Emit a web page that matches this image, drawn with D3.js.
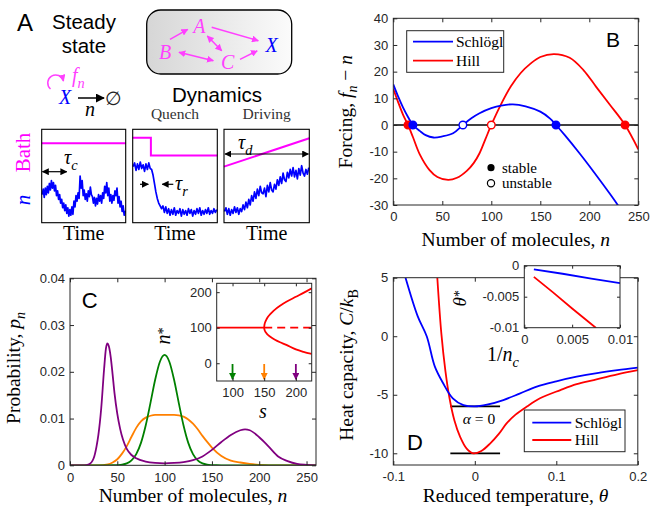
<!DOCTYPE html>
<html><head><meta charset="utf-8">
<script src="https://cdn.jsdelivr.net/npm/d3@7/dist/d3.min.js"></script>
<style>html,body{margin:0;padding:0;background:#fff}svg{display:block}</style>
</head><body>
<svg id="fig" width="652" height="506"></svg>
<script>
// ================= DATA =================
// Panel A: sample traces (level 0 = bottom, 100 = top of each small box)
const steadyTrace=[30,36,27,37,30,39,32,42,35,45,37,43,34,40,29,34,25,30,21,25,16,21,13,19,10,16,7,14,8,17,9,23,17,29,23,32,26,50,37,45,29,35,25,31,23,34,28,38,30,28,21,27,18,26,20,30,23,29,21,32,26,39,32,43,29,37,23,30,21,29,24,34,29,37,21,28,17,23,12,18,8,13];
const quenchTrace=[60,64,56,63,57,65,58,62,55,63,57,64,58,57,51,42,33,26,21,18,15,18,11,17,10,15,8,14,9,16,8,13,10,15,7,14,9,13,8,15,10,14,7,13,9,15,10,16,8,13,9,14,10,16,9,13,10,15,11,14];
const drivingTrace=[12,16,9,15,8,14,10,17,11,16,9,15,12,19,14,22,16,25,19,29,23,33,26,36,29,39,32,31,37,28,40,33,43,35,33,41,36,46,40,49,42,53,46,44,54,48,57,50,59,49,56,47,58,51,61,53,50,57,52,59];
const bathSteadyT=[0,1],        bathSteadyV=[85,85];
const bathQuenchT=[0,0.215,0.215,1], bathQuenchV=[91,91,72,72];
const bathDrivingT=[0,1],       bathDrivingV=[60,90.4];

// Panel B: forcing f_n - n
const bTicksX=[0,50,100,150,200,250];
const bTicksY=[-30,-20,-10,0,10,20,30,40];
const schloglN=[0,5,10,15,20,27,33,41,50,61,71,80,88,100,110,122,135,150,160,166,175,190,205,221,229,235];
const schloglF=[15.2,10.6,6.5,3,0,-2.2,-3.8,-4.7,-4.3,-3.1,0,2.6,4.4,6.3,7.3,7.75,7.0,5.0,2.4,0,-3.8,-10.6,-17.8,-25.8,-30,-33.5];
const hillN=[0,5,10,15,20,27,37,45,56,65,75,82,88,94,100,109,120,130,140,150,164,180,194,207,221,236.5,250];
const hillF=[13.5,8.5,3.8,0,-4.5,-11,-16.9,-19.5,-20.6,-19.8,-17.2,-14.3,-10.6,-5.3,0,7.1,14.5,19.5,23,25.5,26.6,25.2,20.6,14.3,7.6,0,-9.1];
const schloglStable=[20,166], schloglUnstable=[71];
const hillStable=[15,236.5],  hillUnstable=[100];

// Panel C: distributions p_n
const cTicksX=[0,50,100,150,200,250];
const cTicksY=[0,0.01,0.02,0.03,0.04];
const greenN=[0,40,45,50,55,60,65,70,75,80,85,90,95,100,105,110,115,120,125,130,135,140,145,150,155,160,260];
const greenP=[0,0,0.00001,0.00004,0.00013,0.0004,0.00104,0.00238,0.00479,0.00851,0.01329,0.01829,0.02214,0.0236,0.02214,0.01829,0.01329,0.00851,0.00479,0.00238,0.00104,0.0004,0.00013,0.00004,0.00001,0,0];
const orangeN=[0,30,40,45,50,55,60,65,70,75,80,85,90,100,110,115,120,125,130,135,140,145,150,160,170,180,190,200,210,260];
const orangeP=[0,0,0.0002,0.0006,0.0013,0.0025,0.0041,0.0061,0.0080,0.0094,0.0102,0.0106,0.0108,0.0108,0.0108,0.0107,0.0104,0.0098,0.0089,0.0077,0.0063,0.0050,0.0038,0.0020,0.0010,0.0006,0.0003,0.0001,0,0];
const purpleN=[0,15,20,25,28,30,33,36,38,39.5,41,43,45,47,50,53,56,60,65,70,80,90,100,110,120,130,140,150,160,170,180,185,190,200,210,220,230,240,250,260];
const purpleP=[0,0,0.0002,0.0015,0.0040,0.0065,0.0122,0.0205,0.0250,0.0261,0.0255,0.0232,0.0195,0.0155,0.0110,0.0078,0.0055,0.0035,0.0022,0.0015,0.0008,0.0005,0.0004,0.0005,0.0007,0.0011,0.0019,0.0033,0.0050,0.0065,0.0075,0.0077,0.0075,0.0060,0.0040,0.0019,0.0009,0.0003,0.0001,0];
// inset C: fixed points n* vs s
const insetCTicksX=[100,150,200], insetCTicksY=[0,100,200];
const trivialSolidS=[75,150], trivialSolidN=[100,100];
const trivialDashS=[150,225],  trivialDashN=[100,100];
const branchS=[150,150.5,151.5,153,155,158,162,167,175,185,200,212,225];
const upperN=[100,109,115.5,121.5,128,135,142.5,151,161.5,173,187,198,211];
const lowerN=[100,94,89.7,85.6,81.3,76.6,71.6,66,59,51.5,39,32,26];
const arrowS=[100,150,200];

// Panel D: heat capacity
const dTicksX=[-0.1,0,0.1,0.2];
const dTicksY=[-10,-5,0,5];
const schloglTheta=[-0.085,-0.070,-0.059,-0.049,-0.039,-0.027,-0.014,0,0.015,0.035,0.055,0.076,0.1,0.125,0.15,0.175,0.2];
const schloglC=[5,1.7,0,-2.6,-4.0,-5.3,-5.88,-6.0,-5.85,-5.45,-4.9,-4.3,-3.85,-3.46,-3.15,-2.9,-2.69];
const hillTheta=[-0.046,-0.041,-0.036,-0.031,-0.025,-0.018,-0.010,-0.002,0.008,0.019,0.030,0.039,0.050,0.064,0.080,0.105,0.125,0.146,0.175,0.2];
const hillC=[5,0.2,-3.0,-5.3,-7.2,-8.6,-9.6,-10,-9.8,-9.15,-8.3,-7.45,-6.7,-6.0,-5.3,-4.6,-4.1,-3.74,-3.25,-2.9];
const alphaBarTheta=[-0.030,0.031];
const alphaBarLevels=[-6,-10];
// inset D: theta* vs 1/n_c
const insetDTicksX=[0,0.005,0.01], insetDTicksY=[-0.01,-0.005,0];
const schloglInvN=[0.001,0.004,0.007,0.01], schloglThetaStar=[-0.0006,-0.0013,-0.0021,-0.0028];
const hillInvN=[0.001,0.003,0.005,0.0075],  hillThetaStar=[-0.0018,-0.0043,-0.0069,-0.01005];

// ================= DRAWING =================
const SERIF='"Liberation Serif","DejaVu Serif",serif';
const SANS='"Liberation Sans",Arial,Helvetica,sans-serif';
const AX='#262626';
const BLUE='#0000ff', RED='#ff0000', MAG='#ff00ff', MAGT='#ff40ff';
const GREEN='#008000', ORANGE='#ff8000', PURPLE='#800080';

const svg=d3.select('#fig');
svg.append('rect').attr('width',652).attr('height',506).attr('fill','#fff');
const defs=svg.append('defs');
function marker(id,color,size){
  defs.append('marker').attr('id',id).attr('viewBox','0 0 10 10').attr('refX',9).attr('refY',5)
    .attr('markerWidth',size).attr('markerHeight',size).attr('markerUnits','userSpaceOnUse')
    .attr('orient','auto-start-reverse')
    .append('path').attr('d','M0,0L10,5L0,10z').attr('fill',color);
}
marker('ahK','#000',7); marker('ahK8','#000',9); marker('ahM','#ff40ff',7);
marker('ahG',GREEN,7); marker('ahO',ORANGE,7); marker('ahP',PURPLE,7);
const grad=defs.append('linearGradient').attr('id','gbox').attr('x1','0').attr('x2','1').attr('y1','0').attr('y2','0');
grad.append('stop').attr('offset','0').attr('stop-color','#d6d6d6');
grad.append('stop').attr('offset','1').attr('stop-color','#fbfbfb');
function clip(id,x0,x1,y0,y1){
  defs.append('clipPath').attr('id',id).append('rect').attr('x',Math.min(x0,x1)).attr('y',Math.min(y0,y1))
    .attr('width',Math.abs(x1-x0)).attr('height',Math.abs(y1-y0));
}

function rich(g,x,y,parts,size,opts={}){
  const t=g.append('text').attr('x',x).attr('y',y).attr('font-family',opts.family||SERIF)
    .attr('font-size',size).attr('fill',opts.fill||'#000').attr('text-anchor',opts.anchor||'middle');
  if(opts.rotate) t.attr('transform',`rotate(${opts.rotate},${x},${y})`);
  let shift=0;
  const supK=opts.supShift!==undefined?opts.supShift:0.4;
  parts.forEach(p=>{
    const [s,st]=Array.isArray(p)?p:[p,''];
    const sp=t.append('tspan').text(s);
    let target=0, fs=size;
    if(st.includes('sub')){target=size*0.28;fs=size*0.72;}
    if(st.includes('sup')){target=-size*supK;fs=size*0.72;}
    if(target-shift!==0) sp.attr('dy',target-shift);
    shift=target;
    if(fs!==size) sp.attr('font-size',fs);
    if(st.includes('i')) sp.attr('font-style','italic');
  });
  return t;
}

function frame(g,x,y,xt,yt,xf,yf,opts={}){
  const tl=opts.tick||4, fs=opts.fs||13;
  const [xa,xb]=x.range(), [yb,ya]=y.range();
  const a=g.append('g');
  a.append('g').attr('transform',`translate(0,${yb})`).call(d3.axisBottom(x).tickValues(xt).tickSize(-tl).tickPadding(opts.xpad||7).tickFormat(xf));
  a.append('g').attr('transform',`translate(0,${ya})`).call(d3.axisTop(x).tickValues(xt).tickSize(-tl).tickFormat(''));
  a.append('g').attr('transform',`translate(${xa},0)`).call(d3.axisLeft(y).tickValues(yt).tickSize(-tl).tickPadding(opts.ypad||5).tickFormat(yf));
  a.append('g').attr('transform',`translate(${xb},0)`).call(d3.axisRight(y).tickValues(yt).tickSize(-tl).tickFormat(''));
  a.selectAll('.domain').remove();
  a.selectAll('.tick line').attr('stroke',AX).attr('stroke-width',1);
  a.selectAll('.tick text').attr('fill',AX).attr('font-family',SANS).attr('font-size',fs);
  a.append('rect').attr('x',xa).attr('y',ya).attr('width',xb-xa).attr('height',yb-ya)
    .attr('fill','none').attr('stroke',AX).attr('stroke-width',1);
  return a;
}
const fmtPlain=d=>String(d);

// ---------------- Panel A ----------------
const A=svg.append('g');
A.append('text').attr('x',17).attr('y',31).attr('font-family',SANS).attr('font-size',24).text('A');
A.append('text').attr('x',84).attr('y',28.5).attr('font-family',SANS).attr('font-size',20.5).attr('text-anchor','middle').text('Steady');
A.append('text').attr('x',84).attr('y',52.5).attr('font-family',SANS).attr('font-size',20.5).attr('text-anchor','middle').text('state');
// reaction network box
A.append('rect').attr('x',146.7).attr('y',10).attr('width',145).attr('height',64).attr('rx',14)
  .attr('fill','url(#gbox)').attr('stroke','#000').attr('stroke-width',1.3);
const netLetters=[['A',199.3,32.5,MAGT],['B',165,59,MAGT],['C',227.7,69,MAGT],['X',271.7,51.5,BLUE]];
netLetters.forEach(([s,x,y,c])=>A.append('text').attr('x',x).attr('y',y).attr('font-family',SERIF)
  .attr('font-style','italic').attr('font-size',20).attr('fill',c).attr('text-anchor','middle').text(s));
const netArrows=[[170,39.3,187.7,29.3,false],[211.7,27.3,258.3,40.7,false],[207.3,36,221.7,50.7,true],
  [179,52.3,213.3,60.7,true],[240,59.3,257.3,50.7,false]];
netArrows.forEach(([x1,y1,x2,y2,both])=>{
  const l=A.append('line').attr('x1',x1).attr('y1',y1).attr('x2',x2).attr('y2',y2)
    .attr('stroke',MAGT).attr('stroke-width',1.5).attr('marker-end','url(#ahM)');
  if(both) l.attr('marker-start','url(#ahM)');
});
// self-forcing loop
A.append('path').attr('d','M50.5,89 A8,8 0 1,1 63.5,81').attr('fill','none').attr('stroke',MAGT)
  .attr('stroke-width',1.5).attr('marker-end','url(#ahM)');
rich(A,72,82,[['f','i'],['n','isub']],20,{anchor:'start',fill:MAGT});
A.append('text').attr('x',65).attr('y',103.5).attr('font-family',SERIF).attr('font-style','italic')
  .attr('font-size',20).attr('fill',BLUE).attr('text-anchor','middle').text('X');
A.append('line').attr('x1',78).attr('y1',98).attr('x2',104).attr('y2',98).attr('stroke','#000')
  .attr('stroke-width',1.5).attr('marker-end','url(#ahK8)');
A.append('text').attr('x',90).attr('y',116).attr('font-family',SERIF).attr('font-style','italic')
  .attr('font-size',20).attr('text-anchor','middle').text('n');
A.append('text').attr('x',113).attr('y',104.5).attr('font-family',SERIF)
  .attr('font-size',19).attr('fill','#222').attr('text-anchor','middle').text('\u2205');
A.append('text').attr('x',217).attr('y',102).attr('font-family',SANS).attr('font-size',20.5)
  .attr('text-anchor','middle').text('Dynamics');
A.append('text').attr('x',175).attr('y',118.5).attr('font-family',SERIF).attr('font-size',15.5)
  .attr('fill','#333').attr('text-anchor','middle').text('Quench');
A.append('text').attr('x',266.7).attr('y',118.5).attr('font-family',SERIF).attr('font-size',15.5)
  .attr('fill','#333').attr('text-anchor','middle').text('Driving');
rich(A,30,152.5,['Bath'],21,{rotate:-90,fill:MAG});
rich(A,30,200,[['n','i']],21,{rotate:-90,fill:BLUE});

const boxes=[
  {x0:41.7,x1:125.7,trace:steadyTrace,bt:bathSteadyT,bv:bathSteadyV},
  {x0:132.7,x1:217.3,trace:quenchTrace,bt:bathQuenchT,bv:bathQuenchV},
  {x0:224,x1:309.3,trace:drivingTrace,bt:bathDrivingT,bv:bathDrivingV}];
const yA=d3.scaleLinear([0,100],[222.7,129.3]);
boxes.forEach((b,i)=>{
  const xT=d3.scaleLinear([0,1],[b.x0,b.x1]);
  const xI=d3.scaleLinear([0,b.trace.length-1],[b.x0+0.5,b.x1-0.5]);
  A.append('path').datum(b.trace).attr('fill','none').attr('stroke',BLUE).attr('stroke-width',1.7)
    .attr('stroke-linejoin','round')
    .attr('d',d3.line().x((d,j)=>xI(j)).y(d=>yA(d)));
  A.append('path').datum(b.bt.map((t,j)=>[t,b.bv[j]])).attr('fill','none').attr('stroke',MAG).attr('stroke-width',2)
    .attr('d',d3.line().x(d=>xT(d[0])).y(d=>yA(d[1])));
  A.append('rect').attr('x',b.x0).attr('y',129.3).attr('width',b.x1-b.x0).attr('height',222.7-129.3)
    .attr('fill','none').attr('stroke','#000').attr('stroke-width',1.1);
  A.append('text').attr('x',(b.x0+b.x1)/2).attr('y',240).attr('font-family',SERIF).attr('font-size',20)
    .attr('text-anchor','middle').text('Time');
});
// annotations
A.append('line').attr('x1',42.5).attr('y1',171.7).attr('x2',66.7).attr('y2',171.7).attr('stroke','#000')
  .attr('stroke-width',1.2).attr('marker-start','url(#ahK)').attr('marker-end','url(#ahK)');
rich(A,64,164,[['\u03c4','i'],['c','isub']],20,{anchor:'start'});
A.append('line').attr('x1',140).attr('y1',184.3).attr('x2',148.3).attr('y2',184.3).attr('stroke','#000')
  .attr('stroke-width',1.2).attr('marker-end','url(#ahK)');
A.append('line').attr('x1',173.3).attr('y1',184.3).attr('x2',162.3).attr('y2',184.3).attr('stroke','#000')
  .attr('stroke-width',1.2).attr('marker-end','url(#ahK)');
rich(A,175,190,[['\u03c4','i'],['r','isub']],20,{anchor:'start'});
A.append('line').attr('x1',225).attr('y1',154).attr('x2',308.5).attr('y2',154).attr('stroke','#000')
  .attr('stroke-width',1.2).attr('marker-start','url(#ahK)').attr('marker-end','url(#ahK)');
rich(A,238,149,[['\u03c4','i'],['d','isub']],20,{anchor:'start'});

// ---------------- Panel B ----------------
const B=svg.append('g');
const xB=d3.scaleLinear([0,250],[393.3,638.3]);
const yB=d3.scaleLinear([-30,40],[205,18.3]);
clip('clipB',393.3,638.3,18.3,205);
const Bp=B.append('g').attr('clip-path','url(#clipB)');
Bp.append('line').attr('x1',xB(0)).attr('x2',xB(250)).attr('y1',yB(0)).attr('y2',yB(0)).attr('stroke','#000').attr('stroke-width',1.3);
const lineB=d3.line().curve(d3.curveCatmullRom);
Bp.append('path').attr('d',lineB(hillN.map((n,i)=>[xB(n),yB(hillF[i])]))).attr('fill','none').attr('stroke',RED).attr('stroke-width',1.8);
Bp.append('path').attr('d',lineB(schloglN.map((n,i)=>[xB(n),yB(schloglF[i])]))).attr('fill','none').attr('stroke',BLUE).attr('stroke-width',1.8);
function pts(list,color,filled){
  Bp.selectAll(null).data(list).enter().append('circle').attr('cx',d=>xB(d)).attr('cy',yB(0)).attr('r',3.8)
    .attr('fill',filled?color:'#fff').attr('stroke',color).attr('stroke-width',1.4);
}
pts(hillStable,RED,true); pts(hillUnstable,RED,false);
pts(schloglStable,BLUE,true); pts(schloglUnstable,BLUE,false);
frame(B,xB,yB,bTicksX,bTicksY,fmtPlain,fmtPlain);
// legend
B.append('rect').attr('x',406.7).attr('y',30.7).attr('width',97).attr('height',41.6).attr('fill','#fff').attr('stroke',AX);
[['Schl\u00f6gl',BLUE,41.7],['Hill',RED,60.7]].forEach(([s,c,y])=>{
  B.append('line').attr('x1',413).attr('x2',453).attr('y1',y).attr('y2',y).attr('stroke',c).attr('stroke-width',1.8);
  B.append('text').attr('x',456).attr('y',y+5).attr('font-family',SERIF).attr('font-size',15.5).text(s);
});
B.append('circle').attr('cx',491).attr('cy',167.7).attr('r',3.6).attr('fill','#000');
B.append('circle').attr('cx',491).attr('cy',183.3).attr('r',3.6).attr('fill','#fff').attr('stroke','#000').attr('stroke-width',1.2);
B.append('text').attr('x',502).attr('y',172.5).attr('font-family',SERIF).attr('font-size',15).text('stable');
B.append('text').attr('x',502).attr('y',188).attr('font-family',SERIF).attr('font-size',15).text('unstable');
B.append('text').attr('x',606).attr('y',46.7).attr('font-family',SANS).attr('font-size',21).text('B');
rich(B,515.8,245.5,['Number of molecules, ',['n','i']],19.5);
rich(B,352,111.7,['Forcing, ',['f','i'],['n','isub'],' \u2212 ',['n','i']],19.5,{rotate:-90});

// ---------------- Panel C ----------------
const C=svg.append('g');
const xC=d3.scaleLinear([0,260],[70,316]);
const yC=d3.scaleLinear([0,0.04],[465.3,278.3]);
clip('clipC',70,316,278.3,465.3);
const Cp=C.append('g').attr('clip-path','url(#clipC)');
const lineC=d3.line().curve(d3.curveMonotoneX);
[[orangeN,orangeP,ORANGE],[greenN,greenP,GREEN],[purpleN,purpleP,PURPLE]].forEach(([N,P,c])=>{
  Cp.append('path').attr('d',lineC(N.map((n,i)=>[xC(n),yC(P[i])]))).attr('fill','none').attr('stroke',c).attr('stroke-width',1.8);
});
frame(C,xC,yC,cTicksX,cTicksY,fmtPlain,d=>d===0?'0':d3.format('.2f')(d));
C.append('text').attr('x',81.7).attr('y',308).attr('font-family',SANS).attr('font-size',22).text('C');
rich(C,193,501.5,['Number of molecules, ',['n','i']],19.5);
rich(C,20,368,['Probability, ',['p','i'],['n','isub']],19.5,{rotate:-90});
// inset C
const xCi=d3.scaleLinear([75,225],[216.7,311.7]);
const yCi=d3.scaleLinear([-50,225],[381,283.3]);
C.append('rect').attr('x',216.7).attr('y',283.3).attr('width',95).attr('height',97.7).attr('fill','#fff');
clip('clipCi',216.7,311.7,283.3,381);
const Ci=C.append('g').attr('clip-path','url(#clipCi)');
const lineCi=d3.line().curve(d3.curveCatmullRom);
Ci.append('path').attr('d',d3.line()(trivialSolidS.map((s,i)=>[xCi(s),yCi(trivialSolidN[i])]))).attr('stroke',RED).attr('stroke-width',1.8).attr('fill','none');
Ci.append('path').attr('d',d3.line()(trivialDashS.map((s,i)=>[xCi(s),yCi(trivialDashN[i])]))).attr('stroke',RED).attr('stroke-width',1.8).attr('fill','none').attr('stroke-dasharray','8,5');
const branch=branchS.map((s,i)=>[xCi(s),yCi(upperN[i])]).reverse().concat(branchS.slice(1).map((s,i)=>[xCi(s),yCi(lowerN[i+1])]));
Ci.append('path').attr('d',lineCi(branch)).attr('stroke',RED).attr('stroke-width',1.8).attr('fill','none');
const arrowCols=['ahG','ahO','ahP'], arrowStroke=[GREEN,ORANGE,PURPLE];
arrowS.forEach((s,i)=>{
  Ci.append('line').attr('x1',xCi(s)).attr('x2',xCi(s)).attr('y1',yCi(-2)).attr('y2',yCi(-45))
    .attr('stroke',arrowStroke[i]).attr('stroke-width',1.8).attr('marker-end',`url(#${arrowCols[i]})`);
});
frame(C.append('g'),xCi,yCi,insetCTicksX,insetCTicksY,fmtPlain,fmtPlain,{tick:3,xpad:7,ypad:5});
rich(C,170,336,[['n','i'],['*','sup']],20,{rotate:-90,supShift:0.12});
rich(C,263,418,[['s','i']],20);

// ---------------- Panel D ----------------
const D=svg.append('g');
const xD=d3.scaleLinear([-0.1,0.2],[393.3,637.8]);
const yD=d3.scaleLinear([-11,5],[465,277.7]);
clip('clipD',393.3,637.8,277.7,465);
const Dp=D.append('g').attr('clip-path','url(#clipD)');
const lineD=d3.line().curve(d3.curveCatmullRom);
alphaBarLevels.forEach(l=>{
  Dp.append('line').attr('x1',xD(alphaBarTheta[0])).attr('x2',xD(alphaBarTheta[1])).attr('y1',yD(l)).attr('y2',yD(l))
    .attr('stroke','#000').attr('stroke-width',1.8);
});
Dp.append('path').attr('d',lineD(hillTheta.map((t,i)=>[xD(t),yD(hillC[i])]))).attr('fill','none').attr('stroke',RED).attr('stroke-width',1.8);
Dp.append('path').attr('d',lineD(schloglTheta.map((t,i)=>[xD(t),yD(schloglC[i])]))).attr('fill','none').attr('stroke',BLUE).attr('stroke-width',1.8);
frame(D,xD,yD,dTicksX,dTicksY,d=>d===0?'0':String(d),fmtPlain);
rich(D,479,423.5,[['\u03b1','i'],' = 0'],15.5);
D.append('rect').attr('x',524.3).attr('y',410).attr('width',100.7).attr('height',41.7).attr('fill','#fff').attr('stroke',AX);
[['Schl\u00f6gl',BLUE,422.7],['Hill',RED,440]].forEach(([s,c,y])=>{
  D.append('line').attr('x1',532.3).attr('x2',571.3).attr('y1',y).attr('y2',y).attr('stroke',c).attr('stroke-width',1.8);
  D.append('text').attr('x',574.7).attr('y',y+5).attr('font-family',SERIF).attr('font-size',15.5).text(s);
});
D.append('text').attr('x',407).attr('y',450).attr('font-family',SANS).attr('font-size',22).text('D');
rich(D,515.5,502,['Reduced temperature, ',['\u03b8','i']],19.5);
rich(D,353,365,['Heat capacity, ',['C','i'],'/',['k','i'],['B','sub']],19.5,{rotate:-90});
// inset D
const xDi=d3.scaleLinear([0,0.01],[524.3,620]);
const yDi=d3.scaleLinear([-0.01,0],[327.7,265.7]);
D.append('rect').attr('x',524.3).attr('y',265.7).attr('width',95.7).attr('height',62).attr('fill','#fff');
clip('clipDi',524.3,620,265.7,327.7);
const Di=D.append('g').attr('clip-path','url(#clipDi)');
Di.append('path').attr('d',d3.line()(schloglInvN.map((v,i)=>[xDi(v),yDi(schloglThetaStar[i])]))).attr('fill','none').attr('stroke',BLUE).attr('stroke-width',1.8);
Di.append('path').attr('d',d3.line()(hillInvN.map((v,i)=>[xDi(v),yDi(hillThetaStar[i])]))).attr('fill','none').attr('stroke',RED).attr('stroke-width',1.8);
frame(D.append('g'),xDi,yDi,insetDTicksX,insetDTicksY,fmtPlain,fmtPlain,{tick:3,xpad:7,ypad:5});
rich(D,466,298.3,[['\u03b8','i'],['*','sup']],19,{rotate:-90,supShift:0.12});
rich(D,503,361,['1/',['n','i'],['c','isub']],20);
</script>
</body></html>
